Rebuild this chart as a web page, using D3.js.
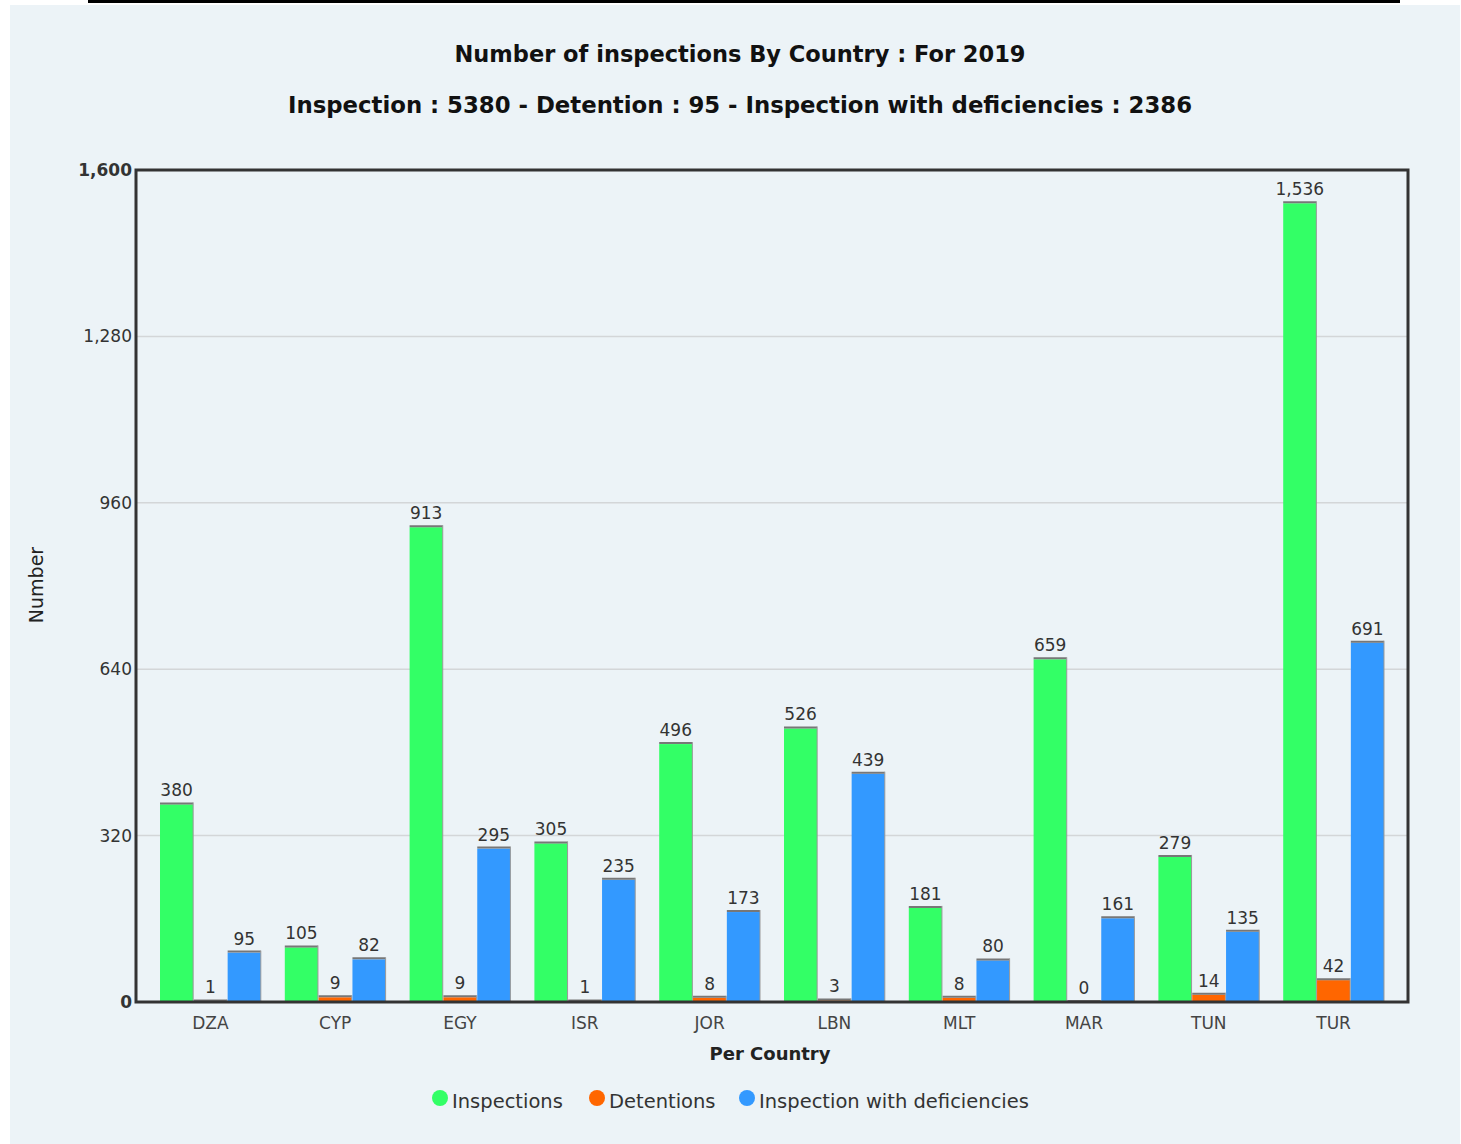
<!DOCTYPE html>
<html>
<head>
<meta charset="utf-8">
<script src="https://cdn.jsdelivr.net/npm/d3@7"></script>
<style>
  body { margin: 0; background: #fff; }
  svg { display: block; font-family: "DejaVu Sans", Verdana, sans-serif; }
</style>
</head>
<body>
<div id="chart"></div>
<script>
const countries = ["DZA", "CYP", "EGY", "ISR", "JOR", "LBN", "MLT", "MAR", "TUN", "TUR"];
const inspections = [380, 105, 913, 305, 496, 526, 181, 659, 279, 1536];
const detentions = [1, 9, 9, 1, 8, 3, 8, 0, 14, 42];
const deficiencies = [95, 82, 295, 235, 173, 439, 80, 161, 135, 691];
const yTicks = [0, 320, 640, 960, 1280, 1600];
const seriesNames = ["Inspections", "Detentions", "Inspection with deficiencies"];
const seriesColors = ["#33ff66", "#ff6600", "#3399ff"];

const width = 1461,
  height = 1144;

const svg = d3
  .select("#chart")
  .append("svg")
  .attr("width", width)
  .attr("height", height);

// background panel + top rule
svg.append("rect").attr("x", 10).attr("y", 5).attr("width", 1450).attr("height", 1139).attr("fill", "#ecf3f7");
svg.append("rect").attr("x", 88).attr("y", 0).attr("width", 1312).attr("height", 3).attr("fill", "#000");

const plot = { left: 136, right: 1408, top: 170, bottom: 1002 };

const x = d3.scaleBand().domain(countries).range([148, 1396]);
const inner = d3.scaleBand().domain(d3.range(3)).range([12, x.bandwidth() - 12]).paddingInner(0.02);
const y = d3.scaleLinear().domain([0, 1600]).range([plot.bottom, plot.top]);

// title
svg.append("text").attr("x", 740).attr("y", 62).attr("text-anchor", "middle")
  .attr("font-size", 22.5).attr("font-weight", "bold").attr("fill", "#111")
  .text("Number of inspections By Country : For 2019");
svg.append("text").attr("x", 740).attr("y", 113).attr("text-anchor", "middle")
  .attr("font-size", 22.8).attr("font-weight", "bold").attr("fill", "#111")
  .text("Inspection : 5380 - Detention : 95 - Inspection with deficiencies : 2386");

// gridlines
svg.append("g").selectAll("line").data(yTicks.slice(1, -1)).join("line")
  .attr("x1", plot.left).attr("x2", plot.right)
  .attr("y1", (d) => y(d)).attr("y2", (d) => y(d))
  .attr("stroke", "#d3d6d8").attr("stroke-width", 1.5);

// y axis labels
svg.append("g").selectAll("text").data(yTicks).join("text")
  .attr("x", plot.left - 4).attr("y", (d) => y(d) + 6)
  .attr("text-anchor", "end").attr("font-size", 17)
  .attr("font-weight", (d) => (d === 0 || d === 1600 ? "bold" : "normal"))
  .attr("fill", "#333")
  .text((d) => d3.format(",")(d));

// bars
const data = [inspections, detentions, deficiencies];
const groups = svg.append("g").selectAll("g").data(countries).join("g")
  .attr("transform", (d) => `translate(${x(d)},0)`);

groups.each(function (c, i) {
  const g = d3.select(this);
  data.forEach((vals, s) => {
    const v = vals[i];
    const bx = inner(s), bw = inner.bandwidth();
    g.append("rect").attr("x", bx).attr("y", y(v)).attr("width", bw)
      .attr("height", plot.bottom - y(v)).attr("fill", seriesColors[s]);
    g.append("line").attr("x1", bx).attr("x2", bx + bw)
      .attr("y1", y(v) - 1).attr("y2", y(v) - 1)
      .attr("stroke", "#777").attr("stroke-width", 2);
    g.append("line").attr("x1", bx + bw).attr("x2", bx + bw)
      .attr("y1", y(v) - 2).attr("y2", plot.bottom)
      .attr("stroke", "#999").attr("stroke-width", 1);
    g.append("text").attr("x", bx + bw / 2).attr("y", y(v) - 8)
      .attr("text-anchor", "middle").attr("font-size", 17).attr("fill", "#333")
      .text(d3.format(",")(v));
  });
});

// frame
svg.append("rect").attr("x", plot.left).attr("y", plot.top)
  .attr("width", plot.right - plot.left).attr("height", plot.bottom - plot.top)
  .attr("fill", "none").attr("stroke", "#333").attr("stroke-width", 3);

// x axis labels
const xAxis = svg.append("g").attr("transform", `translate(0,${plot.bottom})`)
  .call(d3.axisBottom(x).tickSize(0).tickPadding(15));
xAxis.select(".domain").remove();
xAxis.selectAll("text").attr("font-size", 17).attr("fill", "#444")
  .attr("font-family", "DejaVu Sans, Verdana, sans-serif");

// axis titles
svg.append("text").attr("x", 770).attr("y", 1060).attr("text-anchor", "middle")
  .attr("font-size", 18).attr("font-weight", "bold").attr("fill", "#222").text("Per Country");
svg.append("text").attr("transform", "translate(43,585) rotate(-90)").attr("text-anchor", "middle")
  .attr("font-size", 19).attr("fill", "#222").text("Number");

// legend
const legendX = [440, 597, 747];
const legend = svg.append("g").selectAll("g").data(seriesNames).join("g")
  .attr("transform", (d, i) => `translate(${legendX[i]},1098)`);
legend.append("circle").attr("r", 8).attr("fill", (d, i) => seriesColors[i]);
legend.append("text").attr("x", 12).attr("y", 10).attr("font-size", 19.5).attr("fill", "#333").text((d) => d);
</script>
</body>
</html>
